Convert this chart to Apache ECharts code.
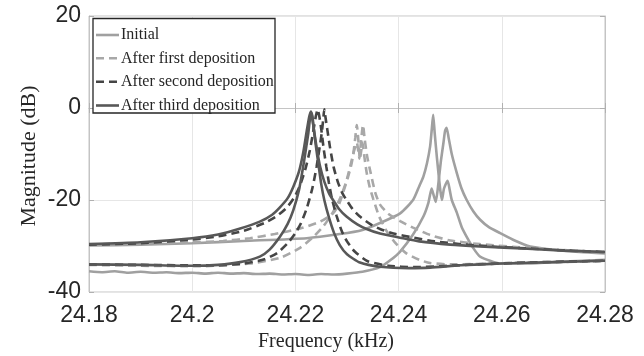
<!DOCTYPE html>
<html>
<head>
<meta charset="utf-8">
<script src="https://cdn.jsdelivr.net/npm/echarts@6/dist/echarts.min.js"></script>
<style>
  html, body { margin: 0; padding: 0; background: #fff; }
  #chart { width: 644px; height: 356px; }
</style>
</head>
<body>
<div id="chart"></div>
<script>
// Axis ticks
const xTicks = [24.18, 24.2, 24.22, 24.24, 24.26, 24.28];
const yTicks = [-40, -20, 0, 20];

const seriesNames = ['Initial', 'After first deposition', 'After second deposition', 'After third deposition'];

// Each measurement has two response curves, [frequency (kHz), magnitude (dB)].
// "A" curves start on the upper baseline, "B" curves on the lower one.
const initialA = [
  [24.1800, -29.9], [24.1900, -29.7], [24.2000, -29.4], [24.2100, -28.9], [24.2222, -28.3],
  [24.2286, -27.4], [24.2330, -26.5], [24.2364, -25.0], [24.2403, -22.9], [24.2428, -20.0],
  [24.2440, -17.0], [24.2448, -14.9], [24.2455, -12.0], [24.2461, -8.4], [24.2464, -5.0],
  [24.2467, -1.5], [24.2470, -5.5], [24.2474, -10.5], [24.2478, -15.0], [24.2481, -18.0],
  [24.2484, -20.0], [24.2488, -17.5], [24.2495, -15.8], [24.2499, -17.8], [24.2503, -20.0],
  [24.2513, -22.8], [24.2522, -25.8], [24.2532, -28.0], [24.2545, -30.5], [24.2558, -32.3],
  [24.2597, -33.8], [24.2650, -33.8], [24.2720, -33.4], [24.2800, -33.0]
];
const initialB = [
  [24.1800, -35.5], [24.1825, -35.7], [24.1850, -35.5], [24.1875, -35.8], [24.1900, -35.6],
  [24.1925, -35.8], [24.1950, -35.7], [24.1975, -35.9], [24.2000, -35.8], [24.2025, -36.0],
  [24.2050, -35.8], [24.2075, -36.0], [24.2100, -35.9], [24.2125, -36.1], [24.2150, -36.0],
  [24.2175, -36.2], [24.2200, -36.1], [24.2225, -36.3], [24.2250, -36.1], [24.2275, -36.2],
  [24.2300, -36.0], [24.2330, -35.6], [24.2364, -34.6], [24.2385, -33.0], [24.2403, -31.2],
  [24.2428, -27.5], [24.2448, -23.6], [24.2458, -20.5], [24.2464, -17.5], [24.2468, -19.0],
  [24.2472, -20.4], [24.2477, -16.5], [24.2482, -11.5], [24.2487, -7.5], [24.2490, -5.0],
  [24.2493, -4.3], [24.2497, -6.5], [24.2503, -10.0], [24.2513, -14.2], [24.2522, -17.5],
  [24.2532, -20.0], [24.2545, -22.5], [24.2558, -24.3], [24.2575, -25.9], [24.2597, -27.2],
  [24.2625, -28.8], [24.2655, -30.1], [24.2700, -30.8], [24.2750, -31.3], [24.2800, -31.6]
];

const firstA = [
  [24.1800, -29.7], [24.1900, -29.5], [24.2000, -29.2], [24.2060, -28.9], [24.2112, -28.3],
  [24.2160, -27.4], [24.2209, -26.2], [24.2248, -24.7], [24.2273, -22.9], [24.2285, -20.8],
  [24.2293, -18.2], [24.2302, -15.0], [24.2308, -12.5], [24.2312, -10.2], [24.2316, -6.5],
  [24.2319, -3.7], [24.2322, -7.0], [24.2325, -11.0], [24.2328, -9.0], [24.2330, -7.5],
  [24.2333, -10.0], [24.2338, -14.0], [24.2344, -17.2], [24.2351, -19.8], [24.2362, -23.5],
  [24.2377, -26.8], [24.2395, -29.5], [24.2415, -31.6], [24.2440, -33.0], [24.2461, -33.7],
  [24.2500, -34.0], [24.2550, -33.9], [24.2650, -33.6], [24.2800, -33.3]
];
const firstB = [
  [24.1800, -34.1], [24.1900, -34.3], [24.2015, -34.4], [24.2112, -33.8], [24.2170, -32.6],
  [24.2209, -30.4], [24.2235, -28.0], [24.2255, -25.6], [24.2272, -22.8], [24.2286, -19.8],
  [24.2298, -16.2], [24.2306, -12.8], [24.2313, -9.6], [24.2319, -7.5], [24.2322, -9.5],
  [24.2324, -11.0], [24.2327, -7.5], [24.2331, -3.7], [24.2334, -6.5], [24.2339, -10.5],
  [24.2346, -14.2], [24.2355, -18.5], [24.2364, -21.0], [24.2380, -23.0], [24.2403, -24.6],
  [24.2428, -26.0], [24.2461, -27.6], [24.2500, -28.8], [24.2558, -29.6], [24.2650, -30.4],
  [24.2720, -30.9], [24.2800, -31.3]
];

const secondA = [
  [24.1800, -29.7], [24.1900, -29.4], [24.2000, -28.6], [24.2050, -27.9], [24.2100, -26.7],
  [24.2140, -25.0], [24.2165, -23.4], [24.2183, -21.7], [24.2198, -19.4], [24.2209, -16.8],
  [24.2220, -13.0], [24.2228, -9.2], [24.2235, -4.8], [24.2240, -1.6], [24.2243, -0.3],
  [24.2246, -1.6], [24.2250, -4.5], [24.2255, -9.0], [24.2260, -12.8], [24.2265, -16.3],
  [24.2271, -19.8], [24.2280, -23.5], [24.2290, -26.8], [24.2300, -29.0], [24.2315, -31.2],
  [24.2340, -33.3], [24.2380, -34.3], [24.2430, -34.6], [24.2480, -34.4], [24.2550, -34.0],
  [24.2650, -33.6], [24.2800, -33.2]
];
const secondB = [
  [24.1800, -34.0], [24.1900, -34.1], [24.2000, -34.2], [24.2050, -34.2], [24.2100, -33.8],
  [24.2140, -32.9], [24.2165, -31.5], [24.2185, -29.4], [24.2200, -27.2], [24.2211, -25.0],
  [24.2222, -21.8], [24.2233, -17.4], [24.2241, -12.8], [24.2247, -8.5], [24.2251, -5.5],
  [24.2254, -2.4], [24.2256, -0.3], [24.2258, -1.8], [24.2262, -4.8], [24.2267, -8.5],
  [24.2274, -12.8], [24.2282, -16.0], [24.2291, -18.5], [24.2299, -20.0], [24.2311, -22.0],
  [24.2325, -23.6], [24.2346, -25.3], [24.2364, -26.3], [24.2390, -27.3], [24.2430, -28.2],
  [24.2470, -29.0], [24.2530, -29.7], [24.2580, -30.1], [24.2660, -30.6], [24.2730, -31.0],
  [24.2800, -31.3]
];

const thirdA = [
  [24.1800, -29.6], [24.1900, -29.2], [24.2000, -28.3], [24.2050, -27.5], [24.2093, -26.2],
  [24.2131, -24.7], [24.2155, -23.2], [24.2170, -21.6], [24.2185, -19.6], [24.2196, -17.1],
  [24.2207, -13.8], [24.2215, -9.8], [24.2222, -5.0], [24.2227, -1.8], [24.2230, -0.8],
  [24.2233, -1.8], [24.2235, -4.0], [24.2240, -8.5], [24.2245, -12.5], [24.2250, -16.5],
  [24.2256, -20.0], [24.2265, -23.8], [24.2275, -27.2], [24.2286, -29.8], [24.2300, -31.8],
  [24.2325, -33.6], [24.2364, -34.5], [24.2420, -34.8], [24.2461, -34.7], [24.2520, -34.2],
  [24.2600, -33.8], [24.2700, -33.5], [24.2800, -33.2]
];
const thirdB = [
  [24.1800, -34.0], [24.1900, -34.1], [24.2000, -34.3], [24.2050, -34.1], [24.2093, -33.5],
  [24.2131, -32.3], [24.2150, -30.8], [24.2170, -28.0], [24.2185, -25.2], [24.2196, -22.2],
  [24.2207, -17.8], [24.2215, -12.8], [24.2221, -8.5], [24.2225, -5.5], [24.2228, -2.5],
  [24.2230, -0.8], [24.2232, -1.8], [24.2236, -4.8], [24.2241, -8.5], [24.2248, -12.8],
  [24.2256, -16.0], [24.2265, -18.5], [24.2273, -20.0], [24.2285, -22.0], [24.2299, -23.6],
  [24.2320, -25.3], [24.2338, -26.3], [24.2364, -27.3], [24.2403, -28.2], [24.2440, -29.0],
  [24.2500, -29.7], [24.2558, -30.1], [24.2650, -30.6], [24.2720, -31.0], [24.2800, -31.3]
];

const curveSets = [
  [initialA, initialB],
  [firstA, firstB],
  [secondA, secondB],
  [thirdA, thirdB]
];

const lineStyles = [
  { color: '#a0a0a0', type: 'solid' },
  { color: '#a8a8a8', type: [8, 5] },
  { color: '#454545', type: [8, 5] },
  { color: '#585858', type: 'solid' }
];
const LINE_W = 2.6;

const series = [];
curveSets.forEach((pair, i) => {
  pair.forEach(curve => {
    series.push({
      name: seriesNames[i],
      type: 'line',
      data: curve,
      showSymbol: false,
      symbol: 'none',
      smooth: 0.2,
      animation: false,
      color: lineStyles[i].color,
      lineStyle: { color: lineStyles[i].color, width: LINE_W, type: lineStyles[i].type },
      z: 2 + i
    });
  });
});

// Boxed legend in the upper-left corner of the plot
const legendBox = { x: 93, y: 18.5, w: 182, h: 94.5 };
const legendRowY = [35, 58.3, 81.7, 105.5];
const legendGraphics = [{
  type: 'rect',
  z: 100,
  shape: { x: legendBox.x, y: legendBox.y, width: legendBox.w, height: legendBox.h },
  style: { fill: '#fff', stroke: '#262626', lineWidth: 1.3 }
}];
seriesNames.forEach((name, i) => {
  const y = legendRowY[i];
  legendGraphics.push({
    type: 'line',
    z: 101,
    shape: { x1: 96, y1: y, x2: 119, y2: y },
    style: { stroke: lineStyles[i].color, lineWidth: LINE_W,
             lineDash: lineStyles[i].type === 'solid' ? null : lineStyles[i].type }
  });
  legendGraphics.push({
    type: 'text',
    z: 101,
    x: 121,
    y: y,
    style: { text: name, align: 'left', verticalAlign: 'middle',
             fontFamily: 'Liberation Serif', fontSize: 16, fill: '#262626' }
  });
});

const fmtX = v => String(parseFloat(v.toFixed(2)));
const tickFont = { fontFamily: 'Liberation Sans', fontSize: 23, color: '#262626' };
const frameColor = '#c4c4c4';
const tickStyle = { show: true, inside: true, length: 5, lineStyle: { color: '#b0b0b0' } };

const chart = echarts.init(document.getElementById('chart'), null, { renderer: 'canvas' });
chart.setOption({
  animation: false,
  backgroundColor: '#fff',
  grid: { left: 89, right: 39, top: 16, bottom: 64, show: true, borderColor: frameColor, borderWidth: 1 },
  xAxis: [{
    type: 'value',
    min: xTicks[0],
    max: xTicks[xTicks.length - 1],
    interval: 0.02,
    axisLine: { show: true, lineStyle: { color: frameColor } },
    axisTick: tickStyle,
    axisLabel: Object.assign({ margin: 12, formatter: fmtX }, tickFont),
    splitLine: { show: true, lineStyle: { color: '#e6e6e6', width: 1 } }
  }, {
    type: 'value',
    position: 'top',
    min: xTicks[0],
    max: xTicks[xTicks.length - 1],
    interval: 0.02,
    axisLine: { show: true, lineStyle: { color: frameColor } },
    axisTick: tickStyle,
    axisLabel: { show: false },
    splitLine: { show: false }
  }],
  yAxis: [{
    type: 'value',
    min: yTicks[0],
    max: yTicks[yTicks.length - 1],
    interval: 20,
    axisLine: { show: true, lineStyle: { color: frameColor } },
    axisTick: tickStyle,
    axisLabel: Object.assign({ margin: 8 }, tickFont),
    splitLine: { show: true, lineStyle: { color: '#e6e6e6', width: 1 } }
  }, {
    type: 'value',
    position: 'right',
    min: yTicks[0],
    max: yTicks[yTicks.length - 1],
    interval: 20,
    axisLine: { show: true, lineStyle: { color: frameColor } },
    axisTick: tickStyle,
    axisLabel: { show: false },
    splitLine: { show: false }
  }],
  graphic: [{
    type: 'text',
    x: 326,
    y: 342,
    style: { text: 'Frequency (kHz)', align: 'center', verticalAlign: 'middle',
             fontFamily: 'Liberation Serif', fontSize: 20, fill: '#262626' }
  }, {
    type: 'text',
    x: 29,
    y: 156,
    rotation: Math.PI / 2,
    style: { text: 'Magnitude (dB)', align: 'center', verticalAlign: 'middle',
             fontFamily: 'Liberation Serif', fontSize: 22, fill: '#262626' }
  }].concat(legendGraphics),
  series: series
});
</script>
</body>
</html>
